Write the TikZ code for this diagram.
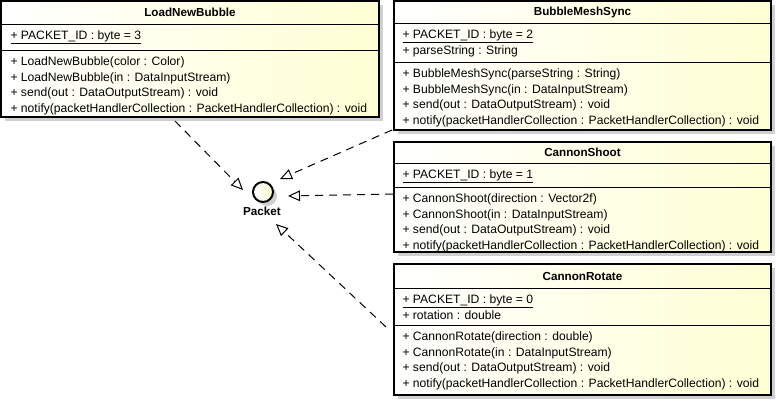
\documentclass[tikz,border=0pt]{standalone}
\usepackage{fontspec}
\setmainfont{Liberation Sans}
\usetikzlibrary{arrows.meta,fit,shadows}

\definecolor{umlcream}{RGB}{255,255,212}
\definecolor{umlshadow}{RGB}{208,208,208}

\tikzset{every picture/.style={line width=0.75pt}}
\tikzset{
  classbox/.style={draw, line width=1.5pt, left color=white, right color=umlcream, inner sep=0pt,
    drop shadow={shadow xshift=3pt, shadow yshift=-3pt, fill=umlshadow, opacity=1}},
  classname/.style={font=\fontsize{8.75}{10}\selectfont\bfseries, inner sep=0.75pt},
  member/.style={anchor=north west, font=\fontsize{9.1}{10}\selectfont, inner sep=0.75pt,
    text height=7.4pt, text depth=2.1pt},
  realize/.style={dash pattern=on 6pt off 4.5pt, -{Triangle[open, length=9pt, width=8pt]}},
}

\begin{document}
\begin{tikzpicture}[x=0.75pt,y=0.75pt,yscale=-1,xscale=1]
\useasboundingbox (0,0) rectangle (776,404);

%Class: LoadNewBubble
\node [classbox, fit={(1,1) (379,117)}] (loadnewbubble) {};
\draw (loadnewbubble.west |- 0,24) -- (loadnewbubble.east |- 0,24) ;
\draw (loadnewbubble.west |- 0,50) -- (loadnewbubble.east |- 0,50) ;
% Text Node
\node [classname] (lnbTitle) at (loadnewbubble.north |- 0,12.5) {LoadNewBubble};
\node [member] (lnbAttr1) at (9,28) {\underline{+ PACKET\_ID : byte = 3}};
\node [member] (lnbOp1) at (9,54) {+ LoadNewBubble(color : Color)};
\node [member] (lnbOp2) at (lnbOp1.south west) {+ LoadNewBubble(in : DataInputStream)};
\node [member] (lnbOp3) at (lnbOp2.south west) {+ send(out : DataOutputStream) : void};
\node [member] (lnbOp4) at (lnbOp3.south west) {+ notify(packetHandlerCollection : PacketHandlerCollection) : void};

%Class: BubbleMeshSync
\node [classbox, fit={(394,1) (771,130)}] (bubblemeshsync) {};
\draw (bubblemeshsync.west |- 0,23) -- (bubblemeshsync.east |- 0,23) ;
\draw (bubblemeshsync.west |- 0,62) -- (bubblemeshsync.east |- 0,62) ;
% Text Node
\node [classname] (bmsTitle) at (bubblemeshsync.north |- 0,12) {BubbleMeshSync};
\node [member] (bmsAttr1) at (401,27) {\underline{+ PACKET\_ID : byte = 2}};
\node [member] (bmsAttr2) at (bmsAttr1.south west) {+ parseString : String};
\node [member] (bmsOp1) at (401,66) {+ BubbleMeshSync(parseString : String)};
\node [member] (bmsOp2) at (bmsOp1.south west) {+ BubbleMeshSync(in : DataInputStream)};
\node [member] (bmsOp3) at (bmsOp2.south west) {+ send(out : DataOutputStream) : void};
\node [member] (bmsOp4) at (bmsOp3.south west) {+ notify(packetHandlerCollection : PacketHandlerCollection) : void};

%Class: CannonShoot
\node [classbox, fit={(394,142) (771,252)}] (cannonshoot) {};
\draw (cannonshoot.west |- 0,163) -- (cannonshoot.east |- 0,163) ;
\draw (cannonshoot.west |- 0,187) -- (cannonshoot.east |- 0,187) ;
% Text Node
\node [classname] (csTitle) at (cannonshoot.north |- 0,152.5) {CannonShoot};
\node [member] (csAttr1) at (401,167) {\underline{+ PACKET\_ID : byte = 1}};
\node [member] (csOp1) at (401,191) {+ CannonShoot(direction : Vector2f)};
\node [member] (csOp2) at (csOp1.south west) {+ CannonShoot(in : DataInputStream)};
\node [member] (csOp3) at (csOp2.south west) {+ send(out : DataOutputStream) : void};
\node [member] (csOp4) at (csOp3.south west) {+ notify(packetHandlerCollection : PacketHandlerCollection) : void};

%Class: CannonRotate
\node [classbox, fit={(394,264) (771,395)}] (cannonrotate) {};
\draw (cannonrotate.west |- 0,288) -- (cannonrotate.east |- 0,288) ;
\draw (cannonrotate.west |- 0,325) -- (cannonrotate.east |- 0,325) ;
% Text Node
\node [classname] (crTitle) at (cannonrotate.north |- 0,276) {CannonRotate};
\node [member] (crAttr1) at (401,292) {\underline{+ PACKET\_ID : byte = 0}};
\node [member] (crAttr2) at (crAttr1.south west) {+ rotation : double};
\node [member] (crOp1) at (401,329) {+ CannonRotate(direction : double)};
\node [member] (crOp2) at (crOp1.south west) {+ CannonRotate(in : DataInputStream)};
\node [member] (crOp3) at (crOp2.south west) {+ send(out : DataOutputStream) : void};
\node [member] (crOp4) at (crOp3.south west) {+ notify(packetHandlerCollection : PacketHandlerCollection) : void};

%Interface: Packet
\node [classbox, circle, minimum size=15pt] (packet) at (263,192) {};
\node [classname] (packetLabel) at (262,211) {Packet};

%Realizations
\coordinate (lnbTail) at (175,121);
\coordinate (lnbHead) at (243,190);
\coordinate (bmsTail) at (392,130);
\coordinate (bmsHead) at (280,179);
\coordinate (csTail) at (393,194);
\coordinate (csHead) at (288,196);
\coordinate (crTail) at (386,327);
\coordinate (crHead) at (276,224);
\draw [realize] (lnbTail) -- (lnbHead) ;
\draw [realize] (bmsTail) -- (bmsHead) ;
\draw [realize] (csTail) -- (csHead) ;
\draw [realize] (crTail) -- (crHead) ;

\end{tikzpicture}
\end{document}
